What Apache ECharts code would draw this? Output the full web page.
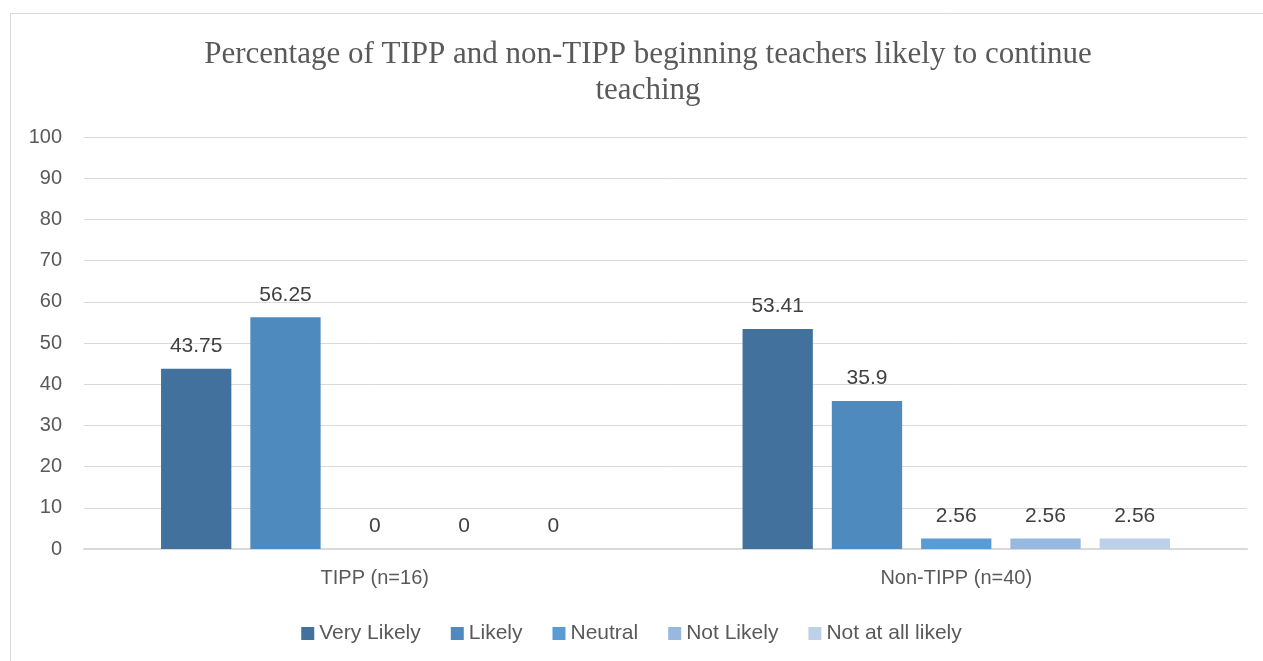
<!DOCTYPE html>
<html><head><meta charset="utf-8">
<script src="https://cdn.jsdelivr.net/npm/echarts@6/dist/echarts.min.js"></script>
<style>html,body{margin:0;padding:0;background:#fff;}#c{width:1263px;height:661px;}</style>
</head><body><div id="c"></div>
<script>
const categories = ['TIPP (n=16)', 'Non-TIPP (n=40)'];
const seriesNames = ['Very Likely', 'Likely', 'Neutral', 'Not Likely', 'Not at all likely'];
const veryLikely = [43.75, 53.41];
const likely = [56.25, 35.9];
const neutral = [0, 2.56];
const notLikely = [0, 2.56];
const notAtAllLikely = [0, 2.56];
const yTicks = [0, 10, 20, 30, 40, 50, 60, 70, 80, 90, 100];

const colors = ['#41719C', '#4E8ABE', '#5B9BD5', '#97B9E0', '#BCD0EA'];
const dataSets = [veryLikely, likely, neutral, notLikely, notAtAllLikely];
const font = 'Liberation Sans';

const chart = echarts.init(document.getElementById('c'));
chart.setOption({
  animation: false,
  backgroundColor: '#fff',
  color: colors,
  title: {
    text: 'Percentage of TIPP and non-TIPP beginning teachers likely to continue\nteaching',
    left: 643, top: 32, textAlign: 'center',
    textStyle: { fontFamily: 'Liberation Serif', fontSize: 31, fontWeight: 'normal', color: '#595959', lineHeight: 36 }
  },
  graphic: [{ type: 'rect', silent: true, z: -1,
    shape: { x: 10.5, y: 13.5, width: 1400, height: 800 },
    style: { fill: 'none', stroke: '#D9D9D9', lineWidth: 1 } }],
  legend: {
    data: seriesNames, bottom: 12, left: 'center', itemWidth: 13, itemHeight: 13, itemGap: 30,
    icon: 'rect',
    textStyle: { fontFamily: font, fontSize: 21, color: '#595959' }
  },
  grid: { left: 84, right: 16, top: 137, bottom: 112 },
  xAxis: {
    type: 'category', data: categories,
    axisLine: { lineStyle: { color: '#D9D9D9', width: 2 } },
    axisTick: { show: false },
    axisLabel: { fontFamily: font, fontSize: 20, color: '#595959', margin: 19 }
  },
  yAxis: {
    type: 'value', min: yTicks[0], max: yTicks[yTicks.length - 1], interval: 10,
    axisLine: { show: false }, axisTick: { show: false },
    splitLine: { lineStyle: { color: '#D9D9D9', width: 1 } },
    axisLabel: { fontFamily: font, fontSize: 20, color: '#595959', margin: 22 }
  },
  series: seriesNames.map((n, i) => ({
    name: n, type: 'bar', data: dataSets[i],
    barGap: '27%', barCategoryGap: '26.5%',
    label: { show: true, position: 'top', distance: 12, fontFamily: font, fontSize: 21, color: '#404040' }
  }))
});
</script></body></html>
